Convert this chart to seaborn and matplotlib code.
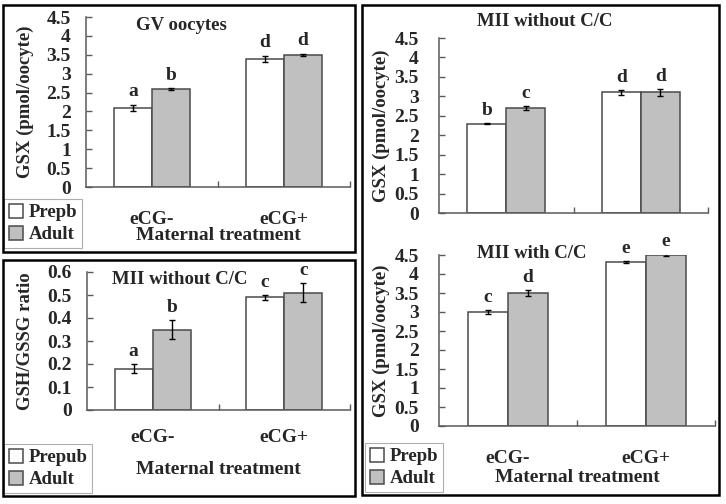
import matplotlib
matplotlib.use("Agg")
import matplotlib.pyplot as plt
import seaborn as sns
import pandas as pd
from matplotlib.patches import Rectangle
from matplotlib.container import BarContainer

# ---------------- data ----------------
treatments = ["eCG-", "eCG+"]
ages = ["Prepb", "Adult"]

gv_prepb = [2.1, 3.4]
gv_adult = [2.6, 3.5]
gv_prepb_err = [0.08, 0.08]
gv_adult_err = [0.02, 0.03]
gv_letters_prepb = ["a", "d"]
gv_letters_adult = ["b", "d"]

ratio_prepb = [0.18, 0.49]
ratio_adult = [0.35, 0.51]
ratio_prepb_err = [0.02, 0.01]
ratio_adult_err = [0.04, 0.04]
ratio_letters_prepb = ["a", "c"]
ratio_letters_adult = ["b", "c"]

mii_wo_prepb = [2.3, 3.1]
mii_wo_adult = [2.7, 3.1]
mii_wo_prepb_err = [0.02, 0.06]
mii_wo_adult_err = [0.04, 0.09]
mii_wo_letters_prepb = ["b", "d"]
mii_wo_letters_adult = ["c", "d"]

mii_w_prepb = [3.0, 4.32]
mii_w_adult = [3.5, 4.5]
mii_w_prepb_err = [0.04, 0.02]
mii_w_adult_err = [0.07, 0.03]
mii_w_letters_prepb = ["c", "e"]
mii_w_letters_adult = ["d", "e"]

gsx_ticks = [0, 0.5, 1, 1.5, 2, 2.5, 3, 3.5, 4, 4.5]
gsx_ticklabels = ["0", "0.5", "1", "1.5", "2", "2.5", "3", "3.5", "4", "4.5"]
ratio_ticks = [0, 0.1, 0.2, 0.3, 0.4, 0.5, 0.6]
ratio_ticklabels = ["0", "0.1", "0.2", "0.3", "0.4", "0.5", "0.6"]

# ---------------- style ----------------
sns.set_theme(style="white")
plt.rcParams["font.family"] = ["Liberation Serif", "DejaVu Serif"]
plt.rcParams["font.weight"] = "bold"
plt.rcParams["axes.labelweight"] = "bold"

W, H = 726, 504
fig = plt.figure(figsize=(W / 100, H / 100), dpi=100)
fig.patch.set_facecolor("white")

SPINE = "#5a5a5a"
EDGE = "#4a4a4a"
GREY = "#c0c0c0"
BOLD = dict(fontweight="bold", family=["Liberation Serif", "DejaVu Serif"])


def rect(l, t, r, b):
    return [l / W, 1 - b / H, (r - l) / W, (b - t) / H]


def make_df(prepb, adult, pe, ae, age_names):
    rows = []
    for i, t in enumerate(treatments):
        rows.append({"treatment": t, "age": age_names[0], "value": prepb[i], "err": pe[i]})
    for i, t in enumerate(treatments):
        rows.append({"treatment": t, "age": age_names[1], "value": adult[i], "err": ae[i]})
    return pd.DataFrame(rows)


def panel(box, prepb, adult, pe, ae, lp, la, ymax, ticks, ticklabels,
          ylabel, ylab_x, show_x=True, legend_box=None, age_names=("Prepb", "Adult"),
          xlab_y=None, xtick_pad=17, ytick_pad=11.5):
    ax = fig.add_axes(rect(*box))
    df = make_df(prepb, adult, pe, ae, list(age_names))
    sns.barplot(data=df, x="treatment", y="value", hue="age", order=treatments,
                hue_order=list(age_names), palette=["white", GREY], width=0.58,
                edgecolor=EDGE, linewidth=1.1, errorbar=None, ax=ax, legend=True)
    ax.set_xlim(-0.5, 1.5)
    ax.set_ylim(0, ymax)
    ax.set_yticks(ticks)
    ax.set_yticklabels(ticklabels, fontsize=14, **BOLD)
    ax.tick_params(axis="y", direction="in", length=4, width=1, color=SPINE,
                   pad=ytick_pad, left=True)
    ax.set_xticks([0, 1])
    if show_x:
        ax.set_xticklabels(treatments, fontsize=14, **BOLD)
    else:
        ax.set_xticklabels(["", ""])
    ax.tick_params(axis="x", which="major", length=0, pad=xtick_pad)
    ax.set_xticks([0.5, 1.5], minor=True)
    ax.tick_params(axis="x", which="minor", direction="in", length=4, width=1,
                   color=SPINE, bottom=True)
    for s in ["top", "right"]:
        ax.spines[s].set_visible(False)
    for s in ["left", "bottom"]:
        ax.spines[s].set_color(SPINE)
        ax.spines[s].set_linewidth(1.1)
    ax.set_facecolor("none")

    # error bars and letters from bar geometry
    errs = [pe, ae]
    lets = [lp, la]
    bar_conts = [c for c in list(ax.containers) if isinstance(c, BarContainer)]
    for k, cont in enumerate(bar_conts):
        xs = [p.get_x() + p.get_width() / 2 for p in cont]
        ys = [p.get_height() for p in cont]
        ax.errorbar(xs, ys, yerr=errs[k], fmt="none", ecolor="black",
                    elinewidth=1, capsize=2.5, capthick=1)
        for x, y, e, t in zip(xs, ys, errs[k], lets[k]):
            ax.annotate(t, (x, y + e), xytext=(0, 3), textcoords="offset points",
                        ha="center", va="bottom", fontsize=14, annotation_clip=False,
                        **BOLD)

    # y label
    ax.set_ylabel(ylabel, fontsize=13.5, **BOLD)
    l, t, r, b = box
    ax.yaxis.set_label_coords((ylab_x - l) / (r - l), 0.5)
    ax.yaxis.label.set_va("center")
    if show_x:
        ax.set_xlabel("Maternal treatment", fontsize=14, **BOLD)
        ax.xaxis.set_label_coords(0.5, (b - xlab_y) / (b - t))
        ax.xaxis.label.set_va("center")
    else:
        ax.set_xlabel("")

    if legend_box is not None:
        lx, ly = legend_box
        sns.move_legend(ax, loc="lower left", bbox_to_anchor=(lx / W, 1 - ly / H),
                        bbox_transform=fig.transFigure, title=None, frameon=True,
                        fancybox=False, fontsize=13.5, handlelength=0.75,
                        handleheight=0.75, handletextpad=0.3, labelspacing=0.25,
                        borderpad=0.25, borderaxespad=0)
        leg = ax.get_legend()
        leg.get_frame().set_edgecolor("#9a9a9a")
        leg.get_frame().set_linewidth(0.8)
        for txt in leg.get_texts():
            txt.set_fontweight("bold")
    else:
        if ax.get_legend() is not None:
            ax.get_legend().remove()
    return ax


# panel 1: GV oocytes
ax1 = panel((86, 17, 350, 187), gv_prepb, gv_adult, gv_prepb_err, gv_adult_err,
            gv_letters_prepb, gv_letters_adult, 4.5, gsx_ticks, gsx_ticklabels,
            "GSX (pmol/oocyte)", 25, legend_box=(4, 248), xlab_y=235, xtick_pad=17,
            ytick_pad=11)
fig.text(181 / W, 1 - 25 / H, "GV oocytes", ha="center", va="center",
         fontsize=13.5, **BOLD)

# panel 2: GSH/GSSG ratio
ax2 = panel((87, 272, 350, 410), ratio_prepb, ratio_adult, ratio_prepb_err, ratio_adult_err,
            ratio_letters_prepb, ratio_letters_adult, 0.6, ratio_ticks, ratio_ticklabels,
            "GSH/GSSG ratio", 26, legend_box=(4, 493), age_names=("Prepub", "Adult"),
            xlab_y=470, xtick_pad=14, ytick_pad=11)
fig.text(180 / W, 1 - 279 / H, "MII without C/C", ha="center", va="center",
         fontsize=13.5, **BOLD)

# panel 3 top: MII without C/C
ax3 = panel((439, 38, 708, 213), mii_wo_prepb, mii_wo_adult, mii_wo_prepb_err, mii_wo_adult_err,
            mii_wo_letters_prepb, mii_wo_letters_adult, 4.5, gsx_ticks, gsx_ticklabels,
            "GSX (pmol/oocyte)", 381, show_x=False, ytick_pad=14.5)
fig.text(545 / W, 1 - 21 / H, "MII without C/C", ha="center", va="center",
         fontsize=13.5, **BOLD)

# panel 3 bottom: MII with C/C
ax4 = panel((439, 255, 715, 426), mii_w_prepb, mii_w_adult, mii_w_prepb_err, mii_w_adult_err,
            mii_w_letters_prepb, mii_w_letters_adult, 4.5, gsx_ticks, gsx_ticklabels,
            "GSX (pmol/oocyte)", 381, legend_box=(365, 492), xlab_y=478,
            xtick_pad=17, ytick_pad=14.5)
fig.text(532 / W, 1 - 253 / H, "MII with C/C", ha="center", va="center",
         fontsize=13.5, **BOLD)

# panel frames
for (l, t, r, b) in [(3, 5, 355, 252), (3, 260, 355, 496), (362, 5, 719, 495)]:
    fig.patches.append(Rectangle((l / W, 1 - b / H), (r - l) / W, (b - t) / H,
                                 transform=fig.transFigure, fill=False,
                                 edgecolor="black", linewidth=1.8))

fig.savefig("out.png", dpi=100, facecolor="white")
